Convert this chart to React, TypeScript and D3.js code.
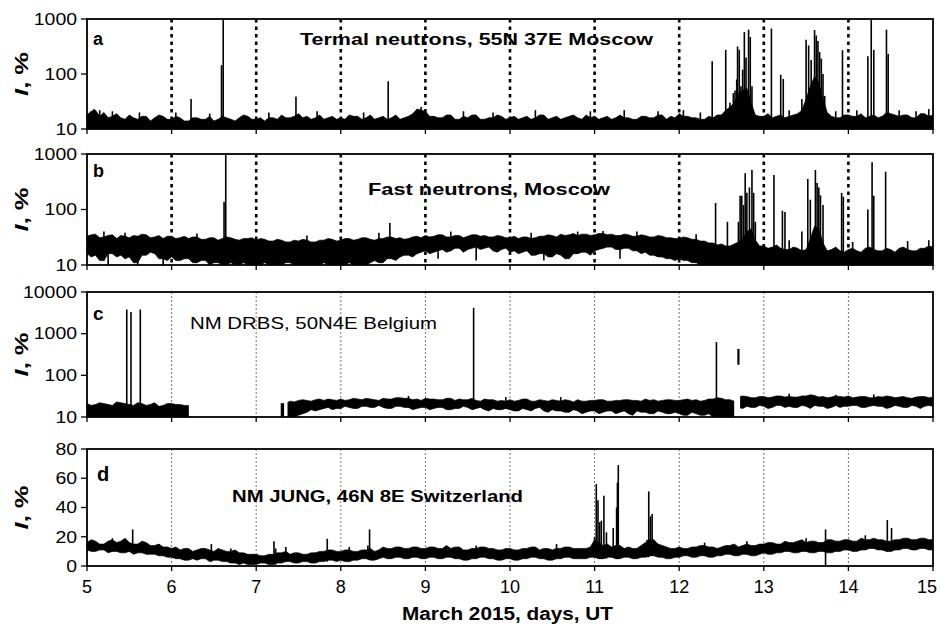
import { useEffect, useRef } from 'react'
import * as d3 from 'd3'

const W = 940
const H = 628
const FONT = '"Liberation Sans", Arial, sans-serif'

// time grid: 5.00 .. 15.00 every 0.05 day (one row below = one day)
const days = d3.range(0, 201).map((i) => 5 + i / 20)
const xTicks = [5, 6, 7, 8, 9, 10, 11, 12, 13, 14, 15]
const gridDays = [6, 7, 8, 9, 10, 11, 12, 13, 14]

const titles = ['Termal neutrons, 55N 37E Moscow', 'Fast neutrons, Moscow', 'NM DRBS, 50N4E Belgium', 'NM JUNG, 46N 8E Switzerland']
const panelLetters = ['a', 'b', 'c', 'd']
const xTitle = 'March 2015, days, UT'

const _ = null

// panel a: thermal neutrons (band is filled down to 10)
const aTicks = [10, 100, 1000]
const aTop = [
  18, 21, 22, 17, 20, 16, 17, 19, 16, 15, 18, 16, 15, 17, 17, 14, 16, 18, 17, 15,
  15, 17, 16, 14, 14, 16, 16, 15, 15, 17, 14, 15, 17, 16, 15, 14, 16, 18, 17, 15,
  15, 16, 14, 16, 16, 15, 18, 16, 16, 17, 19, 16, 17, 15, 16, 18, 15, 16, 17, 15,
  16, 15, 18, 17, 17, 15, 16, 18, 15, 16, 17, 15, 16, 18, 15, 16, 17, 19, 23, 22,
  21, 17, 17, 16, 16, 18, 18, 15, 15, 17, 16, 18, 18, 15, 15, 16, 16, 18, 17, 15,
  16, 17, 15, 16, 17, 15, 16, 18, 18, 15, 16, 17, 15, 16, 17, 18, 16, 15, 18, 16,
  17, 15, 16, 17, 15, 16, 18, 16, 16, 15, 15, 17, 17, 16, 16, 18, 18, 15, 17, 16,
  19, 17, 17, 16, 16, 15, 15, 17, 16, 18, 18, 22, 25, 30, 45, 50, 55, 30, 18, 17,
  17, 19, 16, 17, 18, 16, 17, 18, 19, 22, 35, 60, 90, 70, 35, 20, 17, 16, 16, 18,
  18, 17, 17, 19, 16, 17, 18, 16, 17, 20, 19, 18, 17, 18, 18, 16, 16, 19, 19, 17,
  18,
]
const aSpikes: [number, number][] = [
  [5.08, 23], [5.15, 22], [5.3, 21], [5.62, 20], [6.05, 20], [6.45, 19], [7.15, 20], [7.72, 21],
  [8.27, 20], [8.95, 25], [9.45, 21], [9.8, 20], [10.3, 22], [10.95, 21], [11.35, 22], [11.75, 21],
  [12.05, 22], [12.25, 20], [13.3, 22], [13.85, 21], [14.1, 22], [14.6, 22], [14.8, 21], [14.95, 23],
  [6.23, 35], [6.59, 145], [6.61, 1000], [7.47, 39], [8.56, 74],
  [12.39, 170], [12.55, 275], [12.6, 30], [12.64, 45], [12.66, 50], [12.68, 80], [12.69, 316], [12.71, 275],
  [12.73, 60], [12.75, 120], [12.77, 580], [12.79, 200], [12.82, 640], [12.84, 470], [12.86, 60],
  [13.09, 670], [13.2, 97], [13.23, 81], [13.45, 35], [13.5, 420], [13.53, 330], [13.56, 180],
  [13.6, 630], [13.62, 500], [13.64, 400], [13.66, 250], [13.68, 190], [13.7, 100], [13.72, 40],
  [13.93, 270], [14.23, 210], [14.27, 1000], [14.3, 275], [14.45, 640], [14.47, 230],
]

// panel b: fast neutrons
const bTop = [
  33, 35, 36, 31, 32, 34, 35, 30, 34, 33, 31, 34, 33, 36, 35, 31, 32, 34, 30, 33,
  33, 30, 31, 33, 30, 32, 32, 29, 29, 31, 31, 28, 30, 32, 31, 29, 28, 30, 30, 31,
  28, 30, 29, 27, 27, 29, 28, 26, 26, 28, 27, 29, 28, 26, 26, 28, 28, 30, 29, 27,
  28, 30, 30, 28, 29, 31, 31, 29, 28, 30, 30, 32, 32, 30, 31, 29, 30, 32, 33, 31,
  34, 32, 33, 35, 35, 32, 32, 34, 34, 31, 33, 35, 35, 33, 34, 32, 32, 34, 33, 31,
  31, 33, 30, 32, 32, 30, 31, 33, 33, 35, 34, 32, 36, 34, 35, 37, 34, 36, 36, 34,
  35, 37, 37, 35, 36, 34, 34, 36, 35, 33, 33, 35, 34, 32, 32, 34, 33, 31, 31, 30,
  30, 32, 31, 29, 29, 27, 27, 25, 25, 23, 24, 22, 22, 24, 26, 30, 40, 45, 28, 22,
  22, 20, 21, 23, 20, 19, 19, 21, 20, 18, 19, 30, 50, 45, 25, 18, 19, 21, 18, 17,
  19, 20, 18, 17, 20, 21, 19, 18, 18, 20, 19, 17, 20, 21, 19, 18, 18, 20, 20, 22,
  21,
]
const bBot = [
  16, 14, 15, 12, 12, 16, 16, 14, 15, 13, 14, 11, 11, 15, 15, 17, 16, 13, 13, 12,
  14, 12, 12, 13, 13, 11, 11, 12, 12, 10, 11, 11, 10, 10, 11, 10, 10, 11, 10, 10,
  10, 10, 11, 10, 10, 10, 10, 11, 11, 10, 10, 10, 10, 10, 10, 10, 11, 10, 10, 10,
  10, 10, 11, 10, 10, 10, 10, 11, 12, 11, 11, 13, 13, 12, 14, 15, 15, 14, 16, 17,
  18, 16, 17, 18, 19, 17, 18, 20, 20, 17, 19, 20, 21, 19, 20, 21, 18, 17, 19, 20,
  17, 18, 16, 17, 18, 15, 15, 16, 16, 14, 14, 16, 15, 13, 13, 16, 16, 17, 17, 15,
  18, 19, 20, 21, 21, 19, 19, 20, 20, 18, 18, 16, 17, 15, 15, 14, 14, 13, 13, 12,
  13, 12, 12, 11, 11, 10, 10, 10, 10, 10, 10, 10, 10, 10, 10, 10, 10, 10, 10, 10,
  10, 10, 10, 10, 10, 10, 10, 10, 10, 10, 10, 10, 10, 10, 10, 10, 10, 10, 10, 10,
  10, 10, 10, 10, 10, 10, 10, 10, 10, 10, 10, 10, 10, 10, 10, 10, 10, 10, 10, 10,
  10,
]
const bSpikes: [number, number][] = [
  [5.2, 40], [5.45, 38], [6.3, 37], [7.6, 34], [8.45, 38], [9.3, 40], [10.25, 38], [10.8, 40],
  [11.1, 41], [11.5, 40], [12.2, 36], [13.3, 28], [14.05, 26], [14.7, 27], [14.95, 28],
  [5.25, 10], [5.6, 10], [5.9, 10], [9.15, 13], [9.6, 12], [10.4, 12], [11.3, 13],
  [6.62, 138], [6.64, 1000], [8.58, 57],
  [12.43, 131], [12.57, 60], [12.7, 60], [12.72, 177], [12.74, 177], [12.76, 120], [12.78, 450],
  [12.8, 200], [12.83, 250], [12.86, 515], [12.88, 200], [12.9, 60],
  [13.12, 420], [13.22, 95], [13.25, 90], [13.45, 40], [13.52, 355], [13.55, 150],
  [13.61, 515], [13.63, 300], [13.65, 250], [13.67, 180], [13.7, 120],
  [13.92, 200], [13.94, 170], [14.23, 100], [14.28, 710], [14.3, 177], [14.44, 480],
]

// panel c: NM DRBS (gaps in the record)
const cTicks = [10, 100, 1000, 10000]
const cValid: [number, number][] = [[5, 6.22], [7.29, 7.33], [7.37, 12.65], [12.72, 15]]
const cTop = [
  21, 19, 20, 22, 21, 20, 19, 23, 22, 21, 20, 19, 22, 21, 19, 20, 22, 18, 19, 21,
  21, 20, 20, 19, 19, _, _, _, _, _, _, _, _, _, _, _, _, _, _, _,
  _, _, _, _, 21, 21, 21, 21, 24, 23, 25, 26, 25, 24, 26, 27, 25, 27, 26, 25,
  27, 25, 26, 28, 27, 26, 28, 27, 26, 25, 28, 27, 27, 29, 29, 28, 28, 26, 27, 25,
  28, 27, 27, 26, 26, 28, 28, 25, 27, 26, 26, 28, 25, 24, 27, 26, 26, 24, 25, 24,
  26, 24, 25, 27, 27, 24, 24, 26, 25, 24, 26, 25, 24, 26, 25, 23, 26, 24, 24, 25,
  25, 26, 26, 24, 24, 25, 25, 26, 26, 25, 25, 24, 27, 25, 26, 24, 25, 26, 26, 25,
  25, 26, 27, 25, 26, 24, 25, 27, 27, 29, 28, 26, 26, 24, 30, 32, 31, 29, 29, 31,
  31, 29, 30, 32, 32, 30, 31, 30, 30, 32, 32, 34, 33, 30, 31, 29, 30, 32, 31, 30,
  32, 29, 30, 31, 31, 29, 29, 31, 30, 32, 31, 29, 30, 31, 29, 28, 30, 31, 31, 29,
  30,
]
const cBot = [
  10, 10, 10, 10, 10, 10, 10, 10, 10, 10, 10, 10, 10, 10, 10, 10, 10, 10, 10, 10,
  10, 10, 10, 10, 10, _, _, _, _, _, _, _, _, _, _, _, _, _, _, _,
  _, _, _, _, 10, 10, 10, 10, 10, 10, 11, 12, 13, 15, 14, 15, 16, 17, 15, 16,
  16, 18, 17, 16, 16, 18, 18, 17, 17, 19, 17, 16, 16, 18, 18, 17, 17, 15, 16, 17,
  17, 15, 16, 17, 17, 15, 15, 16, 16, 18, 17, 15, 16, 17, 15, 14, 16, 15, 15, 16,
  15, 14, 14, 16, 15, 14, 16, 17, 14, 13, 15, 14, 14, 13, 13, 15, 14, 12, 13, 14,
  14, 12, 13, 14, 14, 12, 13, 14, 12, 11, 14, 13, 13, 12, 12, 14, 13, 12, 12, 13,
  12, 11, 11, 13, 12, 11, 11, 12, 10, 10, 10, 10, 10, 10, 17, 16, 18, 17, 17, 19,
  18, 16, 17, 19, 19, 17, 18, 17, 17, 19, 18, 16, 19, 18, 18, 16, 17, 19, 17, 18,
  18, 19, 19, 17, 17, 18, 19, 18, 18, 16, 17, 19, 18, 17, 17, 19, 18, 16, 18, 19,
  18,
]
const cSpikes: [number, number][] = [
  [8.8, 32], [9.95, 30], [10.6, 30], [13.3, 36], [13.85, 34], [14.3, 35],
  [5.47, 3800], [5.52, 3330], [5.63, 3800], [9.57, 4170], [12.44, 630],
]
const cFloating: [number, number, number][] = [[12.7, 180, 430]]

// panel d: NM JUNG (linear scale)
const dTicks = [0, 20, 40, 60, 80]
const dTop = [
  16, 18, 17, 15, 15, 17, 18, 16, 17, 19, 16, 15, 15, 17, 16, 14, 14, 15, 13, 13,
  12, 13, 11, 12, 12, 10, 11, 12, 12, 11, 10, 12, 11, 10, 10, 11, 9, 9, 8, 8,
  8, 7, 7, 8, 8, 9, 9, 10, 8, 9, 9, 8, 8, 9, 9, 10, 10, 11, 11, 10,
  10, 11, 11, 10, 10, 11, 11, 12, 10, 11, 13, 12, 12, 13, 13, 12, 12, 13, 13, 12,
  12, 13, 13, 12, 12, 14, 12, 13, 13, 11, 11, 12, 12, 13, 13, 12, 12, 11, 11, 12,
  12, 11, 11, 12, 12, 13, 13, 11, 12, 12, 11, 12, 12, 13, 13, 12, 12, 12, 12, 13,
  18, 16, 14, 15, 13, 14, 14, 12, 13, 12, 12, 14, 16, 18, 18, 15, 14, 13, 12, 12,
  13, 12, 12, 13, 13, 14, 14, 13, 13, 12, 13, 14, 14, 15, 13, 14, 15, 14, 14, 15,
  15, 16, 16, 15, 15, 17, 16, 16, 17, 18, 16, 17, 17, 16, 16, 18, 18, 17, 17, 18,
  18, 17, 17, 19, 18, 18, 19, 18, 18, 17, 17, 18, 18, 19, 19, 18, 18, 19, 19, 18,
  18,
]
const dBot = [
  11, 10, 10, 11, 11, 9, 10, 10, 9, 9, 10, 8, 9, 9, 8, 8, 8, 7, 7, 6,
  6, 5, 5, 4, 4, 5, 4, 5, 5, 3, 4, 4, 3, 3, 2, 2, 1, 2, 1, 1,
  1, 2, 2, 1, 1, 2, 2, 3, 3, 2, 2, 3, 3, 2, 2, 3, 3, 4, 4, 3,
  4, 3, 3, 4, 4, 5, 5, 4, 4, 5, 6, 5, 5, 6, 6, 5, 5, 6, 6, 5,
  5, 6, 6, 5, 5, 6, 6, 5, 5, 4, 4, 5, 5, 6, 6, 5, 5, 4, 4, 5,
  5, 4, 4, 5, 5, 6, 6, 5, 5, 4, 4, 5, 5, 6, 6, 5, 5, 5, 5, 6,
  6, 5, 5, 6, 6, 5, 5, 6, 6, 5, 5, 6, 6, 7, 7, 6, 6, 5, 5, 6,
  6, 7, 7, 6, 6, 7, 7, 6, 6, 7, 7, 8, 8, 7, 7, 8, 8, 7, 7, 8,
  9, 8, 8, 9, 9, 10, 10, 9, 9, 10, 10, 9, 9, 10, 10, 9, 9, 10, 10, 11,
  11, 10, 10, 11, 11, 12, 12, 11, 11, 10, 10, 11, 11, 12, 12, 11, 11, 12, 12, 11,
  11,
]
const dSpikes: [number, number][] = [
  [5.3, 19], [5.85, 15], [6.7, 12], [8.1, 13], [9.6, 14], [10.55, 15], [12.3, 16], [12.8, 17], [13.5, 19], [14.2, 21],
  [5.54, 25], [6.47, 15], [7.21, 17], [7.23, 12], [7.35, 13], [7.84, 18.6], [8.32, 14], [8.34, 25],
  [11.0, 20], [11.02, 56], [11.04, 45], [11.06, 30], [11.08, 31], [11.11, 48], [11.14, 23],
  [11.22, 26], [11.26, 40], [11.27, 57], [11.28, 69], [11.62, 18], [11.64, 51], [11.66, 34], [11.68, 35.5],
  [13.73, 25], [13.73, 0], [14.46, 31.4], [14.51, 26],
]

type Panel = {
  log: boolean
  domain: [number, number]
  ticks: number[]
  top: (number | null)[]
  bot: (number | null)[] | null
  base: number
  spikes: [number, number][]
  valid: [number, number][]
  floating: [number, number, number][]
}

const panels: Panel[] = [
  { log: true, domain: [10, 1000], ticks: aTicks, top: aTop, bot: null, base: 10, spikes: aSpikes, valid: [[5, 15]], floating: [] },
  { log: true, domain: [10, 1000], ticks: aTicks, top: bTop, bot: bBot, base: 10, spikes: bSpikes, valid: [[5, 15]], floating: [] },
  { log: true, domain: [10, 10000], ticks: cTicks, top: cTop, bot: cBot, base: 10, spikes: cSpikes, valid: cValid, floating: cFloating },
  { log: false, domain: [0, 80], ticks: dTicks, top: dTop, bot: dBot, base: 0, spikes: dSpikes, valid: [[5, 15]], floating: [] },
]

// layout (pixels) per panel
const frames = [
  { y0: 19, y1: 129, lx: 93, ly: 45, ls: 18, tx: 300, ty: 45, tl: 353, tw: 'bold', heavy: true },
  { y0: 154, y1: 265, lx: 93, ly: 177, ls: 18, tx: 368, ty: 195, tl: 242, tw: 'bold', heavy: true },
  { y0: 292, y1: 417, lx: 93, ly: 320, ls: 19, tx: 190, ty: 329, tl: 247, tw: 'normal', heavy: false },
  { y0: 449, y1: 566, lx: 97, ly: 481, ls: 20, tx: 232, ty: 502, tl: 291, tw: 'bold', heavy: false },
]

export default function App() {
  const svgRef = useRef<SVGSVGElement>(null)

  useEffect(() => {
    if (!svgRef.current) return
    const svg = d3.select(svgRef.current)
    svg.selectAll('*').remove()
    svg.append('rect').attr('width', W).attr('height', H).attr('fill', '#fff')

    const x = d3.scaleLinear().domain([5, 15]).range([87, 933])

    panels.forEach((p, pi) => {
      const f = frames[pi]
      const y = p.log
        ? d3.scaleLog().domain(p.domain).range([f.y1, f.y0])
        : d3.scaleLinear().domain(p.domain).range([f.y1, f.y0])

      const clipId = `clip-${pi}`
      const cp = svg.append('clipPath').attr('id', clipId)
      p.valid.forEach(([a, b]) => {
        cp.append('rect').attr('x', x(a)).attr('y', f.y0).attr('width', x(b) - x(a)).attr('height', f.y1 - f.y0)
      })

      // dotted day lines
      const grid = svg.append('g')
      gridDays.forEach((d) => {
        grid.append('line').attr('x1', x(d)).attr('x2', x(d)).attr('y1', f.y0).attr('y2', f.y1)
          .attr('stroke', f.heavy ? '#000' : '#666')
          .attr('stroke-width', f.heavy ? 2.6 : 0.9)
          .attr('stroke-dasharray', f.heavy ? '3.5 4' : '2 2')
      })

      // noise band (min/max envelope)
      const pts = days.map((d, i) => ({ d, hi: p.top[i], lo: p.bot ? p.bot[i] : p.base }))
      const area = d3.area<{ d: number; hi: number | null; lo: number | null }>()
        .defined((q) => q.hi != null && q.lo != null)
        .x((q) => x(q.d))
        .y0((q) => y(q.lo as number))
        .y1((q) => y(q.hi as number))
      svg.append('path').datum(pts).attr('d', area).attr('fill', '#000')
        .attr('stroke', '#000').attr('stroke-width', 0.7).attr('stroke-linejoin', 'bevel').attr('clip-path', `url(#${clipId})`)

      // spikes from the band's lower edge
      const sg = svg.append('g').attr('stroke', '#000').attr('stroke-width', 1.6)
      p.spikes.forEach(([d, v]) => {
        const i = Math.min(200, Math.floor((d - 5) * 20 + 1e-6))
        const lo = p.bot ? (p.bot[i] ?? p.base) : p.base
        const hi = p.top[i] ?? lo
        const from = v < lo ? hi : lo
        sg.append('line').attr('x1', x(d)).attr('x2', x(d))
          .attr('y1', y(Math.max(from, p.domain[0])))
          .attr('y2', y(Math.min(Math.max(v, p.domain[0]), p.domain[1])))
      })
      p.floating.forEach(([d, lo, hi]) => {
        sg.append('line').attr('x1', x(d)).attr('x2', x(d)).attr('y1', y(lo)).attr('y2', y(hi)).attr('stroke-width', 2.2)
      })

      // frame
      svg.append('rect').attr('x', x(5)).attr('y', f.y0).attr('width', x(15) - x(5)).attr('height', f.y1 - f.y0)
        .attr('fill', 'none').attr('stroke', '#000').attr('stroke-width', 1.8)

      // y ticks + labels
      p.ticks.forEach((t) => {
        svg.append('line').attr('x1', x(5) - 6).attr('x2', x(5)).attr('y1', y(t)).attr('y2', y(t)).attr('stroke', '#000').attr('stroke-width', 1.3)
        const s = String(t)
        svg.append('text').attr('x', 77).attr('y', y(t)).attr('dy', '0.36em').attr('text-anchor', 'end')
          .attr('font-family', FONT).attr('font-size', 16).attr('textLength', s.length * 10.8).attr('lengthAdjust', 'spacingAndGlyphs')
          .text(s)
      })

      // x ticks at the bottom of every panel
      xTicks.forEach((t) => {
        svg.append('line').attr('x1', x(t)).attr('x2', x(t)).attr('y1', f.y1).attr('y2', f.y1 + 5).attr('stroke', '#000').attr('stroke-width', 1.3)
      })

      // axis label I, %
      const yl = svg.append('text').attr('transform', `translate(28,${(f.y0 + f.y1) / 2}) rotate(-90)`)
        .attr('text-anchor', 'middle').attr('font-family', FONT).attr('font-size', 18).attr('font-weight', 'bold')
        .attr('textLength', 44).attr('lengthAdjust', 'spacingAndGlyphs')
      yl.append('tspan').attr('font-style', 'italic').text('I')
      yl.append('tspan').text(', %')

      // panel letter and title
      svg.append('text').attr('x', f.lx).attr('y', f.ly).attr('font-family', FONT).attr('font-size', f.ls).attr('font-weight', 'bold').text(panelLetters[pi])
      svg.append('text').attr('x', f.tx).attr('y', f.ty).attr('font-family', FONT).attr('font-size', 17).attr('font-weight', f.tw)
        .attr('textLength', f.tl).attr('lengthAdjust', 'spacingAndGlyphs').text(titles[pi])
    })

    // x tick labels and title
    xTicks.forEach((t) => {
      svg.append('text').attr('x', Math.min(x(t), 927)).attr('y', 593).attr('text-anchor', 'middle')
        .attr('font-family', FONT).attr('font-size', 18).text(String(t))
    })
    svg.append('text').attr('x', 402).attr('y', 620).attr('font-family', FONT).attr('font-size', 18).attr('font-weight', 'bold')
      .attr('textLength', 211).attr('lengthAdjust', 'spacingAndGlyphs').text(xTitle)
  }, [])

  return <svg ref={svgRef} width={W} height={H} style={{ position: 'absolute', left: 0, top: 0, display: 'block' }} />
}
